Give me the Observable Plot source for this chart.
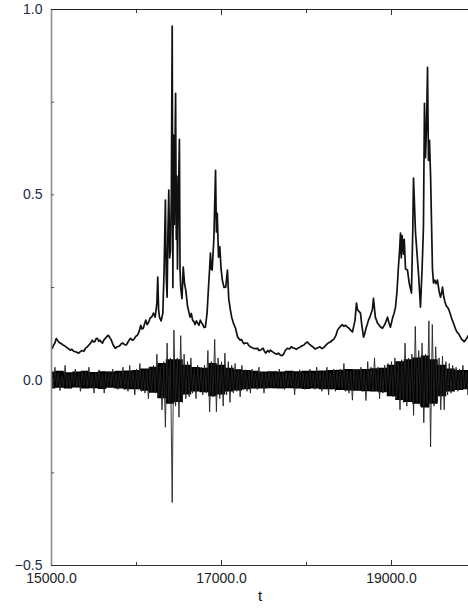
<!DOCTYPE html>
<html><head><meta charset="utf-8">
<script src="https://cdn.jsdelivr.net/npm/d3@7"></script>
<script src="https://cdn.jsdelivr.net/npm/@observablehq/plot@0.6"></script>
<style>body{margin:0;background:#fff}#chart{width:468px;height:609px}</style>
</head><body><div id="chart"></div>
<script>
const xDomain = [15000, 19906];
const yDomain = [-0.5, 1.0];
const xLabelTicks = [15000, 17000, 19000];
const xMajorTicks = [17000, 19000];
const xMinorTicks = [16000, 18000];
const yLabelTicks = [-0.5, 0.0, 0.5, 1.0];
const yMinorTicks = [-0.25, 0.0, 0.25, 0.5, 0.75];
const axisTitle = "t";

// upper series (time, value)
const upperT = [15000,15010,15025,15040,15055,15070,15085,15100,15120,15140,15160,15180,15200,15220,15240,15260,15290,15320,15340,15360,15380,15400,15420,15440,15460,15480,15495,15510,15525,15540,15555,15570,15585,15600,15615,15630,15650,15670,15685,15700,15725,15750,15775,15800,15820,15840,15860,15880,15905,15930,15950,15970,15990,16010,16030,16050,16065,16080,16095,16110,16125,16140,16160,16175,16190,16200,16220,16240,16250,16260,16270,16290,16310,16325,16340,16350,16360,16370,16380,16390,16400,16410,16420,16428,16435,16445,16452,16460,16468,16475,16482,16490,16505,16512,16520,16535,16550,16565,16580,16600,16615,16630,16645,16660,16675,16690,16705,16720,16735,16750,16765,16780,16795,16810,16830,16850,16860,16870,16880,16890,16910,16930,16940,16950,16965,16980,16995,17010,17030,17050,17070,17085,17105,17120,17140,17165,17190,17205,17220,17235,17250,17265,17280,17305,17320,17340,17355,17375,17400,17425,17440,17460,17475,17490,17505,17520,17545,17560,17575,17590,17610,17630,17650,17670,17695,17720,17735,17750,17775,17800,17820,17840,17860,17880,17895,17915,17930,17950,17970,17990,18010,18030,18045,18060,18080,18100,18120,18140,18160,18175,18190,18210,18230,18255,18280,18300,18320,18345,18365,18380,18400,18420,18440,18459,18482,18500,18518,18541,18555,18570,18588,18600,18620,18635,18650,18671,18685,18700,18715,18729,18745,18760,18775,18788,18810,18835,18850,18865,18880,18894,18920,18935,18953,18970,18988,19015,19030,19047,19065,19080,19095,19106,19115,19125,19141,19150,19165,19188,19210,19235,19250,19259,19270,19282,19306,19320,19341,19360,19376,19388,19400,19412,19424,19435,19447,19460,19471,19482,19494,19510,19525,19541,19560,19576,19590,19600,19615,19630,19645,19659,19675,19690,19710,19729,19750,19770,19790,19812,19825,19840,19855,19871,19890,19906];
const upperV = [0.09,0.086,0.095,0.10,0.112,0.108,0.103,0.10,0.098,0.094,0.092,0.088,0.085,0.081,0.083,0.078,0.076,0.073,0.077,0.08,0.078,0.086,0.09,0.095,0.1,0.108,0.103,0.104,0.112,0.113,0.105,0.108,0.103,0.100,0.108,0.112,0.118,0.121,0.115,0.11,0.095,0.086,0.09,0.092,0.098,0.100,0.096,0.095,0.105,0.113,0.108,0.11,0.118,0.121,0.13,0.148,0.138,0.14,0.152,0.162,0.15,0.155,0.167,0.17,0.175,0.181,0.17,0.208,0.278,0.19,0.170,0.16,0.181,0.30,0.486,0.28,0.224,0.40,0.513,0.33,0.351,0.50,0.955,0.25,0.661,0.42,0.60,0.774,0.38,0.55,0.30,0.45,0.650,0.30,0.251,0.22,0.305,0.26,0.243,0.20,0.185,0.17,0.18,0.162,0.158,0.15,0.16,0.154,0.148,0.162,0.155,0.150,0.142,0.143,0.18,0.262,0.30,0.343,0.30,0.297,0.38,0.566,0.40,0.450,0.332,0.36,0.30,0.270,0.25,0.251,0.297,0.22,0.189,0.17,0.154,0.14,0.116,0.112,0.108,0.11,0.103,0.098,0.10,0.100,0.094,0.09,0.088,0.086,0.085,0.086,0.08,0.081,0.084,0.086,0.078,0.073,0.08,0.076,0.081,0.078,0.075,0.072,0.07,0.073,0.067,0.067,0.072,0.08,0.086,0.084,0.09,0.087,0.086,0.083,0.086,0.088,0.090,0.093,0.095,0.1,0.103,0.098,0.095,0.092,0.089,0.084,0.086,0.088,0.09,0.086,0.086,0.09,0.095,0.1,0.103,0.107,0.11,0.12,0.135,0.14,0.145,0.15,0.145,0.148,0.143,0.14,0.135,0.13,0.145,0.16,0.208,0.19,0.185,0.181,0.15,0.116,0.125,0.14,0.15,0.162,0.17,0.18,0.19,0.221,0.17,0.154,0.15,0.145,0.142,0.140,0.15,0.158,0.170,0.155,0.143,0.17,0.18,0.197,0.24,0.30,0.35,0.397,0.33,0.39,0.34,0.38,0.30,0.297,0.26,0.235,0.40,0.545,0.477,0.40,0.324,0.28,0.197,0.30,0.413,0.747,0.60,0.682,0.844,0.593,0.647,0.55,0.424,0.30,0.262,0.27,0.26,0.270,0.24,0.224,0.235,0.251,0.225,0.21,0.2,0.197,0.19,0.18,0.165,0.154,0.14,0.13,0.125,0.116,0.11,0.108,0.104,0.108,0.115,0.121];

// lower series: dense core envelope (every 100 time units)
const coreT = [15000,15100,15200,15300,15400,15500,15600,15700,15800,15900,16000,16100,16200,16300,16400,16500,16600,16700,16800,16900,17000,17100,17200,17300,17400,17500,17600,17700,17800,17900,18000,18100,18200,18300,18400,18500,18600,18700,18800,18900,19000,19100,19200,19300,19400,19500,19600,19700,19800,19900,20000];
const coreHi = [0.022,0.024,0.02,0.022,0.024,0.021,0.023,0.022,0.024,0.025,0.026,0.03,0.035,0.045,0.055,0.055,0.04,0.034,0.032,0.045,0.04,0.032,0.028,0.026,0.024,0.022,0.023,0.022,0.024,0.023,0.024,0.024,0.025,0.026,0.027,0.029,0.028,0.029,0.031,0.032,0.04,0.05,0.055,0.06,0.065,0.055,0.04,0.03,0.026,0.026,0.024];
const coreLo = [-0.024,-0.022,-0.024,-0.021,-0.024,-0.023,-0.025,-0.022,-0.024,-0.026,-0.026,-0.03,-0.035,-0.05,-0.065,-0.06,-0.04,-0.032,-0.034,-0.045,-0.04,-0.032,-0.029,-0.026,-0.024,-0.024,-0.023,-0.024,-0.023,-0.024,-0.025,-0.024,-0.026,-0.026,-0.028,-0.029,-0.03,-0.031,-0.032,-0.034,-0.045,-0.055,-0.06,-0.065,-0.075,-0.065,-0.045,-0.032,-0.028,-0.026,-0.024];

// lower series: swings, values sampled every 20 time units from 15000
const retStart = 15000;
const retStep = 20;
const retV = [
0.018,-0.02,0.035,-0.015,0.02,-0.028,0.012,-0.018,0.04,-0.02,
0.015,-0.022,0.02,-0.012,0.03,-0.02,0.018,-0.03,0.022,-0.015,
0.025,-0.018,0.035,-0.02,0.015,-0.035,0.02,-0.016,0.028,-0.02,
0.016,-0.035,0.02,-0.018,0.024,-0.015,0.03,-0.022,0.018,-0.025,
0.022,-0.02,0.035,-0.025,0.02,-0.03,0.04,-0.02,0.025,-0.04,
0.03,-0.025,0.045,-0.03,0.025,-0.035,0.03,-0.05,0.035,-0.03,
0.04,-0.035,0.07,-0.045,0.035,-0.08,0.05,-0.127,0.1,-0.06,
0.06,-0.33,0.135,-0.07,0.06,-0.10,0.12,-0.06,0.07,-0.05,
0.05,-0.045,0.06,-0.035,0.03,-0.05,0.04,-0.03,0.035,-0.04,
0.04,-0.035,0.08,-0.086,0.05,-0.045,0.11,-0.085,0.06,-0.05,
0.05,-0.07,0.073,-0.04,0.05,-0.06,0.04,-0.035,0.045,-0.03,
0.03,-0.045,0.04,-0.025,0.028,-0.03,0.025,-0.035,0.03,-0.022,
0.02,-0.025,0.035,-0.018,0.022,-0.035,0.02,-0.02,0.025,-0.018,
0.018,-0.022,0.025,-0.02,0.03,-0.018,0.02,-0.025,0.022,-0.02,
0.02,-0.018,0.025,-0.04,0.02,-0.022,0.028,-0.02,0.02,-0.025,
0.022,-0.02,0.03,-0.018,0.02,-0.025,0.035,-0.02,0.022,-0.03,
0.025,-0.022,0.035,-0.04,0.02,-0.025,0.03,-0.03,0.025,-0.02,
0.03,-0.025,0.045,-0.03,0.028,-0.035,0.025,-0.054,0.03,-0.025,
0.03,-0.028,0.035,-0.03,0.025,-0.055,0.05,-0.025,0.035,-0.03,
0.06,-0.03,0.035,-0.05,0.03,-0.035,0.04,-0.03,0.045,-0.04,
0.05,-0.045,0.06,-0.05,0.05,-0.08,0.055,-0.06,0.10,-0.07,
0.06,-0.055,0.07,-0.095,0.145,-0.06,0.08,-0.07,0.10,-0.115,
0.07,-0.065,0.16,-0.18,0.15,-0.07,0.09,-0.06,0.06,-0.08,
0.065,-0.08,0.05,-0.04,0.045,-0.035,0.04,-0.03,0.035,-0.03,
0.03,-0.025,0.04,-0.022,0.025,-0.04,0.025,-0.02,0.03,-0.025
];

const upper = upperT.map((t, i) => ({t, v: upperV[i]}));
const core = coreT.map((t, i) => ({t, hi: coreHi[i], lo: coreLo[i]}));
const ret = retV.map((v, i) => ({t: retStart + i * retStep, v}));
const fmt = d3.format(".1f");

const chart = Plot.plot({
  width: 468,
  height: 609,
  marginTop: 9,
  marginBottom: 44,
  marginLeft: 51,
  marginRight: 0,
  x: {domain: xDomain, axis: null},
  y: {domain: yDomain, axis: null},
  style: {fontFamily: "'Liberation Sans', Arial, sans-serif", fontSize: "14px", background: "#fff", overflow: "visible"},
  marks: [
    Plot.areaY(core, {x: "t", y1: "lo", y2: "hi", fill: "#000", curve: "step", clip: true}),
    Plot.line(ret, {x: "t", y: "v", stroke: "#222", strokeWidth: 0.9, clip: true}),
    Plot.line(upper, {x: "t", y: "v", stroke: "#111", strokeWidth: 1.7, clip: true}),
    Plot.ruleX([xDomain[0]], {stroke: "#8c8c8c", strokeWidth: 1.6}),
    Plot.ruleY([yDomain[1]], {stroke: "#222", strokeWidth: 1}),
    Plot.ruleY([yDomain[0]], {stroke: "#333", strokeWidth: 1}),
    Plot.axisX(xMajorTicks, {anchor: "bottom", tickSize: -5, tickFormat: () => "", stroke: "#333", label: null}),
    Plot.axisX(xMinorTicks, {anchor: "bottom", tickSize: -3, tickFormat: () => "", stroke: "#333", label: null}),
    Plot.axisX(xMajorTicks, {anchor: "top", tickSize: -5, tickFormat: () => "", stroke: "#333", label: null}),
    Plot.axisX(xMinorTicks, {anchor: "top", tickSize: -3, tickFormat: () => "", stroke: "#333", label: null}),
    Plot.axisY(yMinorTicks, {anchor: "left", tickSize: -3, tickFormat: () => "", stroke: "#555", label: null}),
    Plot.axisX(xLabelTicks, {anchor: "bottom", tickSize: 0, tickPadding: 8, tickFormat: fmt, fontSize: 14, fill: "#222", label: null}),
    Plot.axisY(yLabelTicks, {anchor: "left", tickSize: 0, tickPadding: 9, tickFormat: fmt, fontSize: 14, fill: "#1b2a47", label: null}),
    Plot.text([axisTitle], {frameAnchor: "bottom", dy: 35, fontSize: 15, fill: "#111"})
  ]
});
document.getElementById("chart").append(chart);
</script></body></html>
